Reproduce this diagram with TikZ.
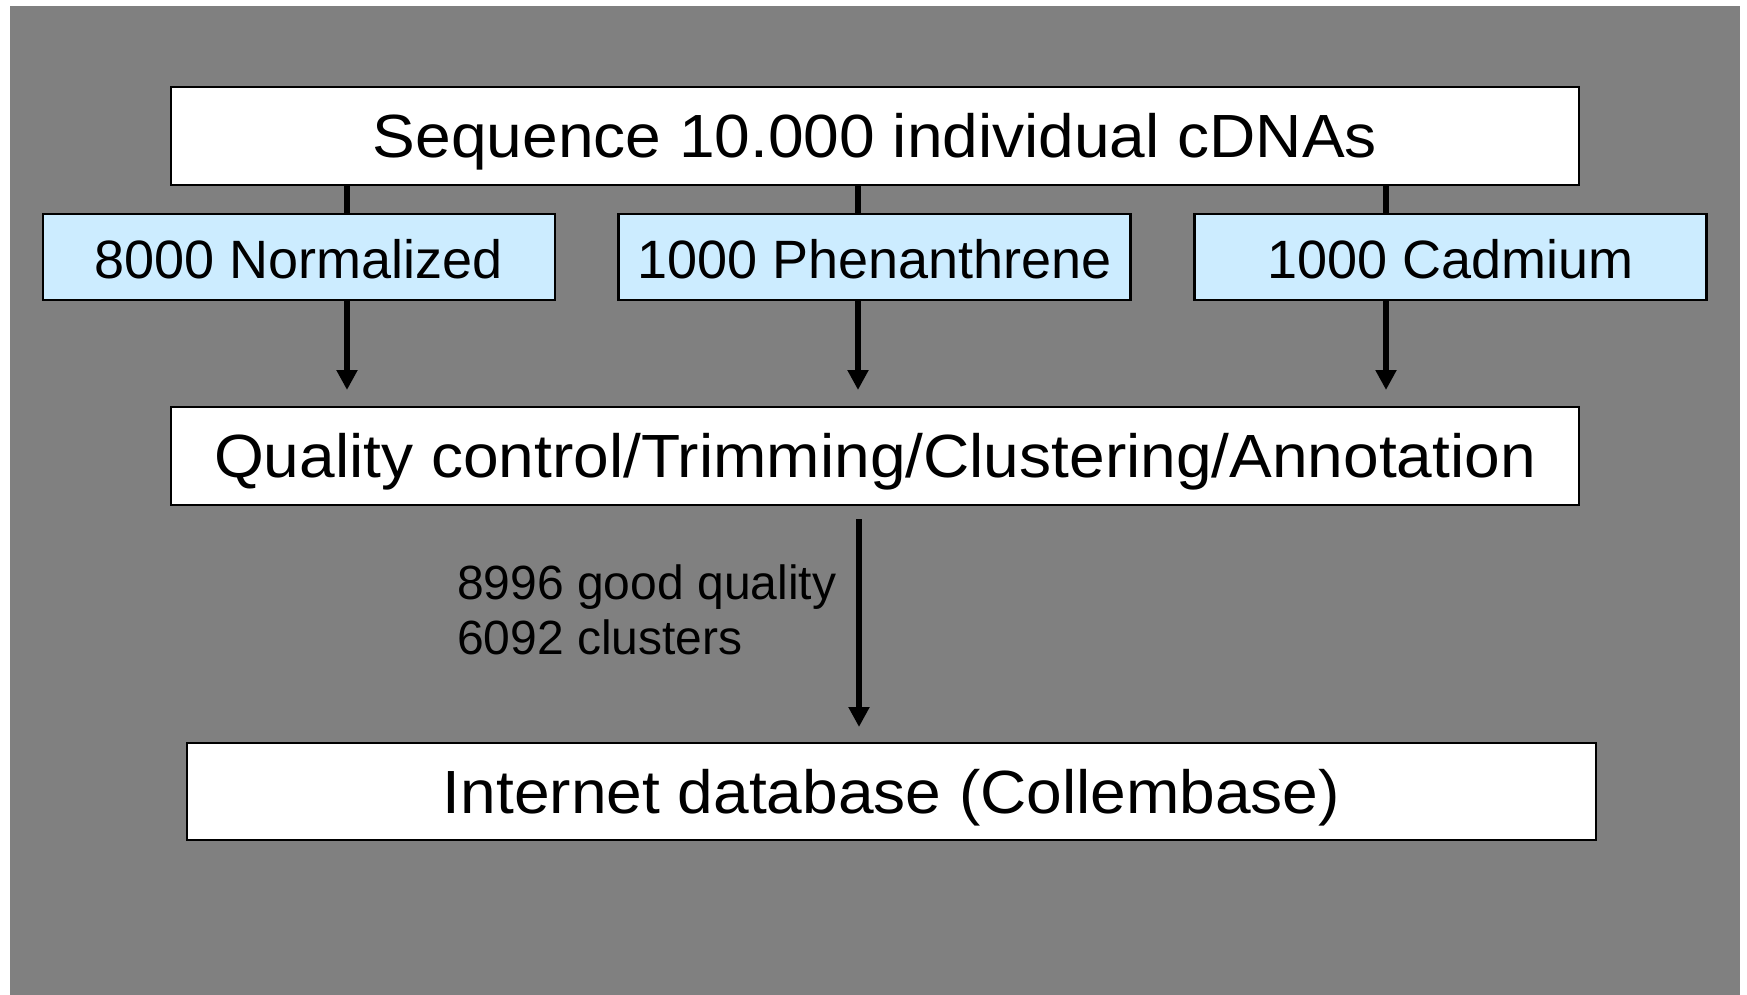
\documentclass[tikz,border=0pt]{standalone}
\usepackage{fontspec}
\setmainfont{Liberation Sans}
\newfontfamily\widesans[FakeStretch=1.05]{Liberation Sans}
\usetikzlibrary{arrows.meta}
\definecolor{bggray}{RGB}{128,128,128}
\definecolor{lightblue}{RGB}{204,236,255}
\begin{document}
\begin{tikzpicture}[x=1pt,y=-1pt,
  box/.style={draw=black,line width=2.5pt,fill=white,inner sep=0pt,text height=43.7pt,text depth=0pt,font=\widesans\fontsize{61}{68}\selectfont},
  bluebox/.style={box,fill=lightblue,text height=42pt,font=\fontsize{54}{60}\selectfont,minimum width=512pt,minimum height=86pt},
  conn/.style={line width=6pt},
  arr/.style={conn,-{Triangle[width=20pt,length=20pt]}},
]
\fill[white] (0,0) rectangle (1747,995);
\fill[bggray] (10,6) rectangle (1740,995);
\useasboundingbox (0,0) rectangle (1747,995);
\node[box,minimum width=1408pt,minimum height=98pt] (top) at (875,136) {Sequence 10.000 individual cDNAs};
\node[bluebox] (b1) at (299,257) {8000 Normalized};
\node[bluebox] (b2) at (874.5,257) {1000 Phenanthrene};
\node[bluebox] (b3) at (1450.5,257) {1000 Cadmium};
\node[box,minimum width=1408pt,minimum height=98pt] (q) at (875,456) {Quality control/Trimming/Clustering/Annotation};
\node[box,minimum width=1409pt,minimum height=97pt] (db) at (891.5,791.5) {Internet database (Collembase)};
\node[font=\fontsize{48}{55}\selectfont,align=left,anchor=north west,inner sep=0pt] (lbl) at (457,565) {8996 good quality\\6092 clusters};
\coordinate (e1) at (347,390);
\coordinate (e2) at (858,390);
\coordinate (e3) at (1386,390);
\coordinate (e4) at (859,727);
\draw[conn] (top.south -| e1) -- (b1.north -| e1);
\draw[conn] (top.south -| e2) -- (b2.north -| e2);
\draw[conn] (top.south -| e3) -- (b3.north -| e3);
\draw[arr] (b1.south -| e1) -- (e1);
\draw[arr] (b2.south -| e2) -- (e2);
\draw[arr] (b3.south -| e3) -- (e3);
\draw[arr,shorten <=13pt] (q.south -| e4) -- (e4);
\end{tikzpicture}
\end{document}
